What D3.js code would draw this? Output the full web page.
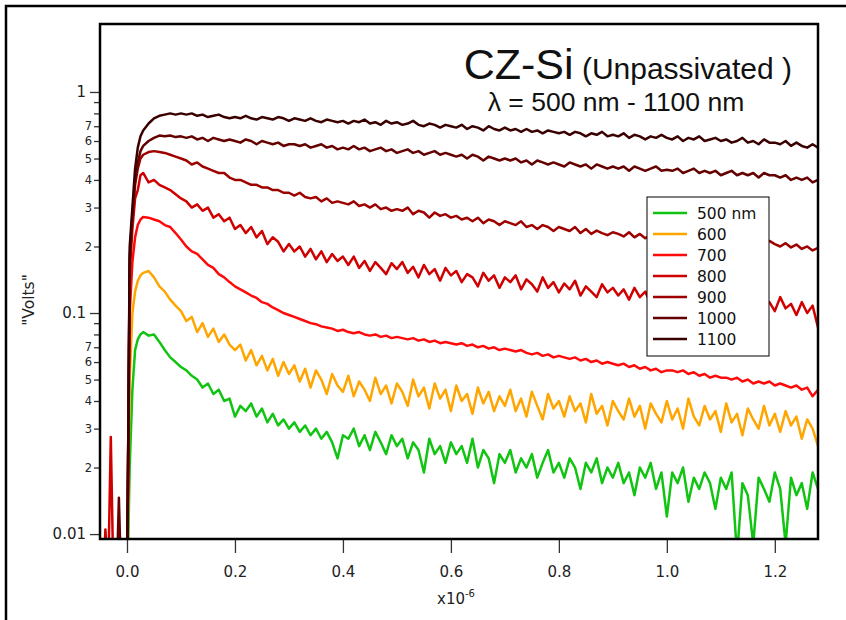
<!DOCTYPE html>
<meta charset="utf-8">
<style>
body { margin: 0; background: #fff; }
svg { display: block; }
.tick text { font-family: "DejaVu Sans", sans-serif; fill: #222; }
.tick line { stroke: #333; stroke-width: 1.3px; }
.title { font-family: "Liberation Sans", Arial, sans-serif; fill: #111; }
.legend text { font-family: "DejaVu Sans", sans-serif; font-size: 15.5px; fill: #111; }
</style>

<svg width="846" height="620"></svg>

<script src="https://d3js.org/d3.v7.min.js"></script>
<script>

// sample times, in units of 1e-6 s
var timeUs = [
  -0.05,-0.045,-0.04,-0.035,-0.03,-0.025,-0.02,-0.015,-0.01,-0.005,
  0,0.005,0.01,0.015,0.02,0.025,0.03,0.04,0.05,0.06,0.07,0.08,0.09,0.10,
  0.11,0.12,0.13,0.14,0.15,0.16,0.17,0.18,0.19,0.20,
  0.21,0.22,0.23,0.24,0.25,0.26,0.27,0.28,0.29,0.30,
  0.31,0.32,0.33,0.34,0.35,0.36,0.37,0.38,0.39,0.40,
  0.41,0.42,0.43,0.44,0.45,0.46,0.47,0.48,0.49,0.50,
  0.51,0.52,0.53,0.54,0.55,0.56,0.57,0.58,0.59,0.60,
  0.61,0.62,0.63,0.64,0.65,0.66,0.67,0.68,0.69,0.70,
  0.71,0.72,0.73,0.74,0.75,0.76,0.77,0.78,0.79,0.80,
  0.81,0.82,0.83,0.84,0.85,0.86,0.87,0.88,0.89,0.90,
  0.91,0.92,0.93,0.94,0.95,0.96,0.97,0.98,0.99,1.00,
  1.01,1.02,1.03,1.04,1.05,1.06,1.07,1.08,1.09,1.10,
  1.11,1.12,1.13,1.14,1.15,1.16,1.17,1.18,1.19,1.20,
  1.21,1.22,1.23,1.24,1.25,1.26,1.27,1.28
];

// signal in volts (values below 0.0095 are off the bottom of the plot)
var v500 = [
  0.005,0.005,0.005,0.005,0.005,0.005,0.005,0.005,0.005,0.005,
  0.005,0.02,0.045,0.068,0.076,0.08,0.082,0.079,0.08,0.074,0.068,0.063,0.06,0.057,
  0.055,0.052,0.05,0.046,0.048,0.043,0.045,0.04,0.041,0.034,
  0.038,0.036,0.039,0.034,0.037,0.032,0.035,0.031,0.033,0.03,
  0.032,0.029,0.031,0.028,0.03,0.027,0.029,0.026,0.022,0.028,
  0.027,0.03,0.025,0.028,0.024,0.029,0.026,0.023,0.028,0.025,
  0.027,0.022,0.026,0.024,0.019,0.027,0.023,0.025,0.021,0.026,
  0.023,0.025,0.021,0.027,0.02,0.024,0.022,0.017,0.023,0.021,
  0.024,0.019,0.022,0.02,0.023,0.018,0.021,0.024,0.019,0.021,
  0.018,0.022,0.02,0.016,0.021,0.019,0.022,0.017,0.02,0.018,
  0.021,0.017,0.019,0.015,0.02,0.018,0.021,0.016,0.019,0.012,
  0.019,0.017,0.02,0.014,0.018,0.016,0.019,0.017,0.013,0.018,
  0.016,0.019,0.008,0.017,0.015,0.009,0.018,0.016,0.014,0.019,
  0.016,0.009,0.018,0.015,0.017,0.013,0.019,0.016
];

var v600 = [
  0.005,0.005,0.005,0.005,0.005,0.005,0.005,0.005,0.005,0.005,
  0.005,0.05,0.1,0.125,0.14,0.148,0.152,0.155,0.145,0.132,0.125,0.115,0.108,0.102,
  0.092,0.096,0.082,0.09,0.078,0.085,0.074,0.08,0.072,0.068,
  0.072,0.061,0.068,0.058,0.064,0.055,0.062,0.052,0.06,0.053,
  0.058,0.049,0.056,0.046,0.055,0.05,0.043,0.053,0.047,0.044,
  0.052,0.042,0.049,0.045,0.04,0.051,0.043,0.047,0.039,0.048,
  0.044,0.038,0.05,0.042,0.046,0.037,0.048,0.041,0.045,0.036,
  0.047,0.04,0.043,0.035,0.046,0.039,0.044,0.036,0.042,0.038,
  0.045,0.036,0.041,0.034,0.044,0.038,0.033,0.043,0.037,0.04,
  0.034,0.042,0.036,0.039,0.032,0.043,0.035,0.038,0.031,0.04,
  0.036,0.033,0.041,0.034,0.038,0.03,0.039,0.035,0.032,0.04,
  0.033,0.037,0.03,0.041,0.034,0.031,0.038,0.033,0.036,0.029,
  0.039,0.032,0.035,0.028,0.037,0.033,0.03,0.038,0.031,0.035,
  0.029,0.036,0.031,0.034,0.027,0.033,0.03,0.025
];

var v700 = [
  0.005,0.005,0.005,0.005,0.005,0.005,0.005,0.005,0.005,0.005,
  0.005,0.1,0.17,0.22,0.25,0.265,0.272,0.27,0.265,0.26,0.25,0.245,0.23,0.215,
  0.20,0.19,0.185,0.175,0.165,0.16,0.15,0.145,0.138,0.132,
  0.128,0.124,0.12,0.117,0.112,0.11,0.106,0.103,0.1,0.098,
  0.096,0.094,0.092,0.09,0.089,0.087,0.086,0.085,0.083,0.084,
  0.082,0.081,0.082,0.08,0.079,0.08,0.078,0.079,0.077,0.078,
  0.077,0.076,0.077,0.075,0.076,0.074,0.075,0.073,0.074,0.073,
  0.072,0.073,0.071,0.072,0.07,0.071,0.069,0.07,0.068,0.069,
  0.068,0.067,0.068,0.066,0.065,0.066,0.064,0.065,0.063,0.064,
  0.063,0.062,0.063,0.061,0.062,0.06,0.061,0.059,0.06,0.059,
  0.058,0.059,0.057,0.058,0.056,0.057,0.055,0.056,0.054,0.055,
  0.055,0.054,0.055,0.053,0.054,0.052,0.053,0.051,0.052,0.051,
  0.051,0.05,0.051,0.049,0.05,0.048,0.049,0.048,0.049,0.047,
  0.048,0.047,0.046,0.047,0.045,0.046,0.042,0.045
];

var v800 = [
  0.005,0.005,0.0105,0.006,0.0275,0.006,0.005,0.005,0.005,0.005,
  0.005,0.15,0.24,0.33,0.36,0.42,0.43,0.39,0.4,0.38,0.37,0.36,0.345,0.33,
  0.32,0.30,0.31,0.29,0.30,0.27,0.28,0.26,0.27,0.24,
  0.25,0.23,0.245,0.22,0.235,0.205,0.22,0.21,0.19,0.205,
  0.19,0.2,0.18,0.195,0.175,0.19,0.17,0.185,0.172,0.18,
  0.165,0.18,0.16,0.172,0.155,0.17,0.16,0.15,0.168,0.158,
  0.17,0.152,0.162,0.145,0.165,0.15,0.158,0.14,0.16,0.148,
  0.155,0.138,0.15,0.145,0.132,0.152,0.14,0.148,0.13,0.145,
  0.138,0.148,0.128,0.142,0.135,0.125,0.145,0.13,0.138,0.124,
  0.136,0.128,0.14,0.12,0.132,0.125,0.118,0.135,0.124,0.13,
  0.12,0.128,0.115,0.13,0.118,0.125,0.11,0.128,0.12,0.114,
  0.125,0.112,0.12,0.108,0.124,0.115,0.106,0.12,0.113,0.118,
  0.108,0.116,0.104,0.12,0.11,0.1,0.115,0.106,0.112,0.102,
  0.118,0.105,0.11,0.098,0.112,0.1,0.108,0.086
];

var v900 = [
  0.005,0.005,0.005,0.005,0.005,0.005,0.005,0.005,0.005,0.005,
  0.005,0.17,0.27,0.38,0.45,0.5,0.52,0.535,0.54,0.535,0.53,0.52,0.51,0.5,
  0.49,0.47,0.48,0.46,0.45,0.44,0.43,0.43,0.41,0.40,
  0.40,0.39,0.38,0.38,0.37,0.37,0.36,0.36,0.35,0.35,
  0.34,0.35,0.335,0.33,0.335,0.32,0.33,0.315,0.32,0.315,
  0.31,0.32,0.305,0.31,0.30,0.31,0.295,0.30,0.29,0.295,
  0.29,0.30,0.28,0.29,0.285,0.27,0.285,0.275,0.28,0.27,
  0.275,0.265,0.27,0.26,0.27,0.255,0.265,0.26,0.25,0.26,
  0.255,0.25,0.26,0.245,0.25,0.24,0.25,0.245,0.235,0.245,
  0.24,0.235,0.245,0.23,0.24,0.228,0.236,0.23,0.225,0.232,
  0.228,0.222,0.232,0.22,0.228,0.218,0.226,0.22,0.215,0.225,
  0.22,0.214,0.225,0.212,0.22,0.21,0.218,0.222,0.21,0.215,
  0.208,0.215,0.205,0.212,0.204,0.21,0.2,0.208,0.212,0.205,
  0.2,0.207,0.198,0.204,0.195,0.2,0.192,0.197
];

var v1000 = [
  0.005,0.005,0.005,0.005,0.005,0.005,0.005,0.0146,0.005,0.005,
  0.005,0.18,0.28,0.4,0.48,0.54,0.57,0.6,0.62,0.635,0.63,0.635,0.625,0.63,
  0.62,0.63,0.61,0.62,0.60,0.62,0.61,0.60,0.61,0.60,
  0.59,0.61,0.60,0.58,0.60,0.59,0.58,0.59,0.57,0.58,
  0.58,0.57,0.58,0.56,0.57,0.58,0.56,0.57,0.55,0.56,
  0.55,0.57,0.55,0.56,0.54,0.55,0.56,0.54,0.55,0.53,
  0.54,0.55,0.53,0.54,0.52,0.53,0.54,0.52,0.53,0.52,
  0.51,0.52,0.50,0.52,0.51,0.49,0.51,0.50,0.49,0.50,
  0.49,0.50,0.48,0.49,0.47,0.49,0.48,0.47,0.48,0.47,
  0.46,0.48,0.47,0.46,0.47,0.45,0.47,0.46,0.45,0.46,
  0.45,0.46,0.44,0.46,0.45,0.44,0.45,0.46,0.44,0.445,
  0.44,0.45,0.43,0.44,0.45,0.43,0.44,0.43,0.44,0.42,
  0.43,0.44,0.42,0.43,0.42,0.43,0.41,0.43,0.42,0.42,
  0.41,0.42,0.40,0.41,0.40,0.41,0.39,0.40
];

var v1100 = [
  0.005,0.005,0.005,0.005,0.005,0.005,0.005,0.005,0.005,0.005,
  0.005,0.2,0.3,0.45,0.56,0.63,0.67,0.72,0.76,0.78,0.79,0.80,0.79,0.80,
  0.79,0.80,0.78,0.79,0.77,0.78,0.79,0.77,0.76,0.77,
  0.76,0.78,0.76,0.75,0.77,0.76,0.75,0.77,0.76,0.74,
  0.76,0.75,0.74,0.76,0.74,0.73,0.75,0.74,0.73,0.74,
  0.72,0.74,0.73,0.75,0.72,0.73,0.71,0.74,0.72,0.73,
  0.71,0.72,0.74,0.71,0.70,0.72,0.71,0.69,0.71,0.70,
  0.69,0.71,0.68,0.70,0.69,0.67,0.70,0.68,0.67,0.69,
  0.67,0.68,0.66,0.68,0.66,0.67,0.65,0.67,0.66,0.65,
  0.66,0.64,0.66,0.65,0.63,0.65,0.64,0.66,0.63,0.64,
  0.63,0.65,0.62,0.64,0.63,0.61,0.63,0.62,0.64,0.62,
  0.61,0.63,0.60,0.62,0.61,0.63,0.60,0.61,0.62,0.60,
  0.61,0.59,0.60,0.62,0.59,0.60,0.58,0.61,0.59,0.59,
  0.58,0.60,0.57,0.59,0.57,0.56,0.58,0.56
];

var legendLabels = ["500 nm", "600", "700", "800", "900", "1000", "1100"];
var seriesValues = [v500, v600, v700, v800, v900, v1000, v1100];
var seriesColors = ["#12c412", "#ffa500", "#ff0a0a", "#d00000", "#9e0000", "#650000", "#3a0000"];

var xTickValues = [0, 0.2, 0.4, 0.6, 0.8, 1.0, 1.2];
var yMajorTicks = [0.01, 0.1, 1];
var yMinorTicks = [0.02,0.03,0.04,0.05,0.06,0.07,0.08,0.09, 0.2,0.3,0.4,0.5,0.6,0.7,0.8,0.9];


var svg = d3.select("svg"),
    margin = {"top": 24, "right": 28, "bottom": 81, "left": 100},
    width = +svg.attr("width") - margin.left - margin.right,
    height = +svg.attr("height") - margin.top - margin.bottom;

svg.append("rect").attr("width", 846).attr("height", 620).attr("fill", "#fff");

// outer slide frame
svg.append("rect")
    .attr("x", 6).attr("y", 6)
    .attr("width", 900).attr("height", 700)
    .attr("fill", "none").attr("stroke", "#000").attr("stroke-width", 2.5);

var x = d3.scaleLinear().domain([-0.05, 1.28]).range([0, width]),
    y = d3.scaleLog().domain([0.0095, 2.03]).range([height, 0]);

var g = svg.append("g")
    .attr("transform", "translate(" + margin.left + "," + margin.top + ")");

g.append("clipPath").attr("id", "plot-clip")
  .append("rect").attr("width", width).attr("height", height);

// traces
var line = d3.line()
    .x(function(d) { return x(d[0]); })
    .y(function(d) { return y(d[1]); });

var traces = g.append("g").attr("clip-path", "url(#plot-clip)");

seriesValues.forEach(function(vals, i) {
  var pts = timeUs.map(function(t, j) { return [t, vals[j]]; })
      .filter(function(d) { return d[1] != null; });
  traces.append("path")
      .datum(pts)
      .attr("fill", "none")
      .attr("stroke", seriesColors[i])
      .attr("stroke-width", 2.5)
      .attr("stroke-linejoin", "round")
      .attr("d", line);
});

// x axis
var xAxis = g.append("g")
    .attr("transform", "translate(0," + height + ")")
    .call(d3.axisBottom(x).tickValues(xTickValues).tickSize(14).tickPadding(13)
      .tickFormat(d3.format(".1f")));
xAxis.select(".domain").remove();
xAxis.selectAll(".tick text").style("font-size", "15px");

// y axis, decades
var yAxisMajor = g.append("g")
    .call(d3.axisLeft(y).tickValues(yMajorTicks).tickSize(10).tickPadding(4)
      .tickFormat(d3.format("~g")));
yAxisMajor.select(".domain").remove();
yAxisMajor.selectAll(".tick text").style("font-size", "15px");

// y axis, minor ticks (only 2..7 get a digit)
var yAxisMinor = g.append("g")
    .call(d3.axisLeft(y).tickValues(yMinorTicks).tickSize(6).tickPadding(2)
      .tickFormat(function(d) {
        var m = Math.round(d / Math.pow(10, Math.floor(Math.log10(d) + 1e-9)));
        return m <= 7 ? m : "";
      }));
yAxisMinor.select(".domain").remove();
yAxisMinor.selectAll(".tick text").style("font-size", "11.5px");

// plot frame
g.append("rect")
    .attr("width", width).attr("height", height)
    .attr("fill", "none").attr("stroke", "#000").attr("stroke-width", 2.5);

// axis titles
var xl = svg.append("text")
    .attr("x", 456).attr("y", 604)
    .attr("text-anchor", "middle")
    .style("font-family", "DejaVu Sans, sans-serif")
    .style("font-size", "15px").style("fill", "#222");
xl.append("tspan").text("x10");
xl.append("tspan").attr("dy", -7).style("font-size", "10px").text("-6");

svg.append("text")
    .attr("transform", "translate(34,300) rotate(-90)")
    .attr("text-anchor", "middle")
    .style("font-family", "DejaVu Sans, sans-serif")
    .style("font-size", "15.5px").style("fill", "#222")
    .text("\"Volts\"");

// title
var t1 = svg.append("text").attr("class", "title")
    .attr("x", 792).attr("y", 79).attr("text-anchor", "end");
t1.append("tspan").style("font-size", "43px").text("CZ-Si");
t1.append("tspan").style("font-size", "30px").text(" (Unpassivated )");

svg.append("text").attr("class", "title")
    .attr("x", 616).attr("y", 111).attr("text-anchor", "middle")
    .style("font-size", "26.5px")
    .text("\u03bb = 500 nm - 1100 nm");

// legend
var legend = svg.append("g").attr("class", "legend")
    .attr("transform", "translate(647,197)");

legend.append("rect")
    .attr("width", 122).attr("height", 159)
    .attr("fill", "#fff").attr("stroke", "#000").attr("stroke-width", 1);

legendLabels.forEach(function(lab, i) {
  var row = legend.append("g").attr("transform", "translate(0," + (16 + i * 21) + ")");
  row.append("line")
      .attr("x1", 6).attr("x2", 40)
      .attr("stroke", seriesColors[i]).attr("stroke-width", 2.5);
  row.append("text")
      .attr("x", 50).attr("dy", "0.36em")
      .text(lab);
});

</script>
